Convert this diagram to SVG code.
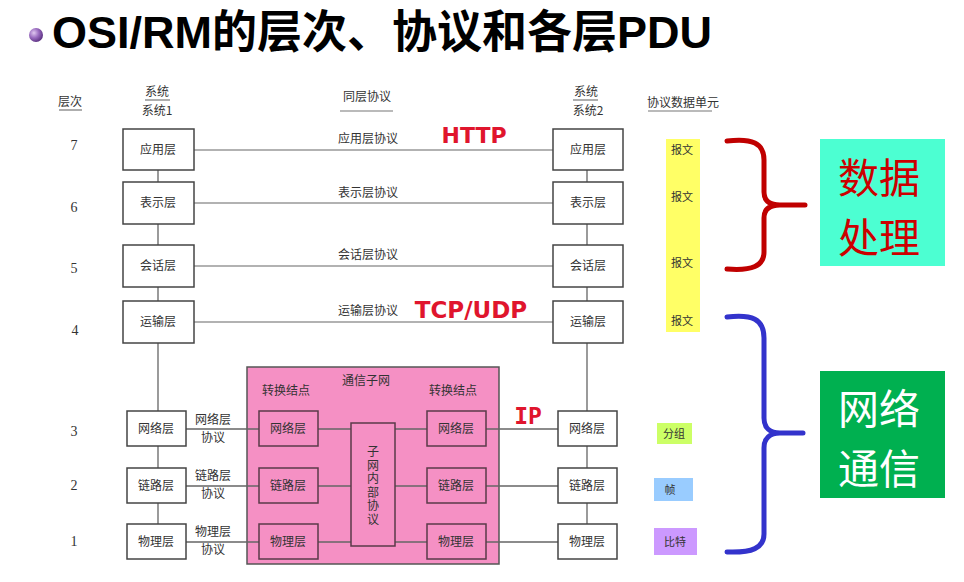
<svg xmlns="http://www.w3.org/2000/svg" width="964" height="582" viewBox="0 0 964 582">
<defs>
<radialGradient id="ball" cx="0.35" cy="0.35" r="0.7">
<stop offset="0" stop-color="#e0c8f0"/>
<stop offset="0.5" stop-color="#9a6cc0"/>
<stop offset="1" stop-color="#5a2f80"/>
</radialGradient>
<style>
.t{font-family:"Noto Sans CJK SC","Noto Sans",sans-serif;fill:#333;font-size:12px;text-anchor:middle}
.s{font-family:"Noto Sans CJK SC","Noto Sans",sans-serif;fill:#333;font-size:11px;text-anchor:middle}
.n{font-family:"Liberation Serif",serif;fill:#333;font-size:14px;text-anchor:middle}
.box{fill:#fff;stroke:#444;stroke-width:1.5}
.pbox{fill:#f590c4;stroke:#5a3a48;stroke-width:1.5}
.ln{stroke:#666;stroke-width:1.3;fill:none}
.pl{stroke:#999;stroke-width:1.5;fill:none}
.ul{stroke:#777;stroke-width:1.2}
.red{font-family:"DejaVu Sans",sans-serif;font-weight:bold;fill:#e0152d;text-anchor:middle}
.big{font-family:"Noto Sans CJK SC",sans-serif;font-size:41px;text-anchor:middle}
.brace{fill:none;stroke-width:5;stroke-linecap:round;stroke-linejoin:round}
</style>
</defs>
<rect width="964" height="582" fill="#fff"/>

<g id="title">
<circle cx="36" cy="35" r="7" fill="url(#ball)"/>
<text x="52" y="48" font-family="'Liberation Sans','Noto Sans CJK SC',sans-serif" font-weight="bold" font-size="45" fill="#000">OSI/RM的层次、协议和各层PDU</text>
</g>

<g id="headers">
<text class="t" x="70" y="106">层次</text>
<line class="ul" x1="59" y1="110" x2="82" y2="110"/>
<text class="t" x="157" y="96">系统</text>
<line class="ul" x1="145" y1="100" x2="170" y2="100"/>
<text class="t" x="157" y="115">系统1</text>
<text class="t" x="367" y="101">同层协议</text>
<line class="ul" x1="340" y1="111" x2="393" y2="111"/>
<text class="t" x="586" y="96">系统</text>
<line class="ul" x1="573" y1="100" x2="598" y2="100"/>
<text class="t" x="588" y="115">系统2</text>
<text class="t" x="683" y="107">协议数据单元</text>
<line class="ul" x1="648" y1="111" x2="712" y2="111"/>
</g>

<g id="layer-numbers">
<text class="n" x="74" y="150">7</text>
<text class="n" x="74" y="212">6</text>
<text class="n" x="74" y="273">5</text>
<text class="n" x="75" y="335">4</text>
<text class="n" x="74" y="436">3</text>
<text class="n" x="74" y="490">2</text>
<text class="n" x="74" y="546">1</text>
</g>

<g id="subnet">
<rect x="247" y="367" width="252" height="197" fill="#f590c4" stroke="#555" stroke-width="1.5"/>
<text class="t" x="366" y="385">通信子网</text>
<text class="t" x="286" y="395">转换结点</text>
<text class="t" x="453" y="395">转换结点</text>
</g>

<g id="connectors">
<line class="pl" x1="194" y1="150" x2="553" y2="150"/>
<line class="pl" x1="194" y1="203" x2="553" y2="203"/>
<line class="pl" x1="194" y1="266" x2="553" y2="266"/>
<line class="pl" x1="194" y1="322" x2="553" y2="322"/>
<path class="ln" d="M158,170V182M158,224V245M158,287V301M158,343V411M158,446V468M158,503V524"/>
<path class="ln" d="M587,170V182M587,224V245M587,287V301M587,343V411M587,446V468M587,503V524"/>
<path class="ln" d="M186,429H259M318,429H351M395,429H427M486,429H558"/>
<path class="ln" d="M186,486H259M318,486H351M395,486H427M486,486H558"/>
<path class="ln" d="M186,542H259M318,542H351M395,542H427M486,542H558"/>
<text class="t" x="368" y="143">应用层协议</text>
<text class="t" x="368" y="197">表示层协议</text>
<text class="t" x="368" y="259">会话层协议</text>
<text class="t" x="368" y="315">运输层协议</text>
<text class="t" x="213" y="424">网络层</text>
<text class="t" x="213" y="442">协议</text>
<text class="t" x="213" y="480">链路层</text>
<text class="t" x="213" y="498">协议</text>
<text class="t" x="213" y="536">物理层</text>
<text class="t" x="213" y="554">协议</text>
</g>

<g id="system1">
<rect class="box" x="123" y="129" width="71" height="41"/><text class="t" x="158" y="154">应用层</text>
<rect class="box" x="123" y="182" width="71" height="42"/><text class="t" x="158" y="207">表示层</text>
<rect class="box" x="123" y="245" width="71" height="42"/><text class="t" x="158" y="270">会话层</text>
<rect class="box" x="123" y="301" width="71" height="42"/><text class="t" x="158" y="326">运输层</text>
<rect class="box" x="127" y="411" width="59" height="35"/><text class="t" x="156" y="433">网络层</text>
<rect class="box" x="127" y="468" width="59" height="35"/><text class="t" x="156" y="490">链路层</text>
<rect class="box" x="127" y="524" width="59" height="35"/><text class="t" x="156" y="546">物理层</text>
</g>

<g id="system2">
<rect class="box" x="553" y="129" width="70" height="41"/><text class="t" x="588" y="154">应用层</text>
<rect class="box" x="553" y="182" width="70" height="42"/><text class="t" x="588" y="207">表示层</text>
<rect class="box" x="553" y="245" width="70" height="42"/><text class="t" x="588" y="270">会话层</text>
<rect class="box" x="553" y="301" width="70" height="42"/><text class="t" x="588" y="326">运输层</text>
<rect class="box" x="558" y="411" width="59" height="35"/><text class="t" x="587" y="433">网络层</text>
<rect class="box" x="558" y="468" width="59" height="35"/><text class="t" x="587" y="490">链路层</text>
<rect class="box" x="558" y="524" width="59" height="35"/><text class="t" x="587" y="546">物理层</text>
</g>

<g id="node-left">
<rect class="pbox" x="259" y="411" width="59" height="35"/><text class="t" x="288" y="433">网络层</text>
<rect class="pbox" x="259" y="468" width="59" height="35"/><text class="t" x="288" y="490">链路层</text>
<rect class="pbox" x="259" y="524" width="59" height="35"/><text class="t" x="288" y="546">物理层</text>
</g>

<g id="node-right">
<rect class="pbox" x="427" y="411" width="59" height="35"/><text class="t" x="456" y="433">网络层</text>
<rect class="pbox" x="427" y="468" width="59" height="35"/><text class="t" x="456" y="490">链路层</text>
<rect class="pbox" x="427" y="524" width="59" height="35"/><text class="t" x="456" y="546">物理层</text>
</g>

<g id="inner-protocol">
<rect class="pbox" x="351" y="423" width="44" height="123"/>
<text x="373" y="486" font-family="'Noto Sans CJK SC',sans-serif" font-size="12" fill="#333" writing-mode="vertical-rl" text-anchor="middle" letter-spacing="1.5">子网内部协议</text>
</g>

<g id="protocols">
<text class="red" x="474" y="143" font-size="22">HTTP</text>
<text class="red" x="471" y="318" font-size="23">TCP/UDP</text>
<text x="528" y="424" font-family="'DejaVu Sans Mono',monospace" font-weight="bold" font-size="23" fill="#e0152d" text-anchor="middle">IP</text>
</g>

<g id="pdu">
<rect x="666" y="139" width="34" height="193" fill="#ffff66"/>
<text class="s" x="682" y="154">报文</text>
<text class="s" x="682" y="201">报文</text>
<text class="s" x="682" y="267">报文</text>
<text class="s" x="682" y="325">报文</text>
<rect x="657" y="423" width="35" height="21" fill="#ccff66"/>
<text class="s" x="674" y="438">分组</text>
<rect x="654" y="478" width="39" height="23" fill="#99ccff"/>
<text class="s" x="670" y="494">帧</text>
<rect x="654" y="528" width="43" height="27" fill="#cc99ff"/>
<text class="s" x="675" y="546">比特</text>
</g>

<g id="brace-data">
<path class="brace" stroke="#c00000" d="M727,141 C752,138 764,143 764,160 L764,192 C764,201 770,205 780,205 L805,205 M780,205 C770,205 764,209 764,218 L764,252 C764,266 752,271 727,269"/>
</g>
<g id="data-processing">
<rect x="820" y="139" width="125" height="127" fill="#4cffd2"/>
<text class="big" x="879" y="193" fill="#cc0000">数据</text>
<text class="big" x="879" y="253" fill="#cc0000">处理</text>
</g>

<g id="brace-network">
<path class="brace" stroke="#3333cc" d="M727,317 C752,314 764,319 764,338 L764,418 C764,428 770,433 780,433 L803,433 M780,433 C770,433 764,438 764,448 L764,534 C764,548 752,553 727,552"/>
</g>
<g id="network-communication">
<rect x="820" y="371" width="125" height="127" fill="#00b050"/>
<text class="big" x="879" y="424" fill="#fff">网络</text>
<text class="big" x="879" y="484" fill="#fff">通信</text>
</g>
</svg>
